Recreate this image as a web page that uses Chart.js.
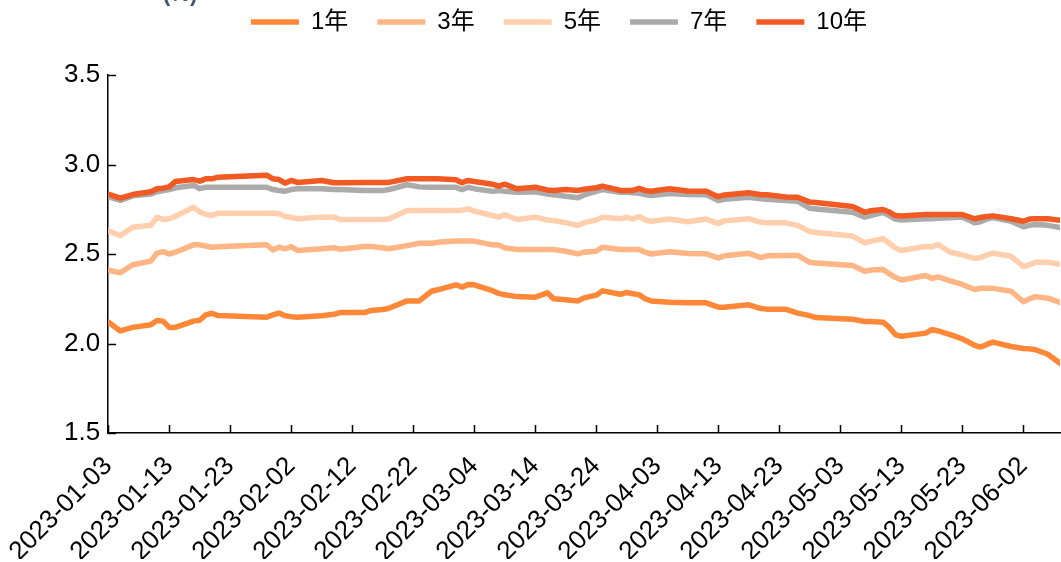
<!DOCTYPE html>
<html>
<head>
<meta charset="utf-8">
<script src="https://cdn.jsdelivr.net/npm/chart.js@4.4.1/dist/chart.umd.min.js"></script>
<style>
  html, body { margin: 0; padding: 0; background: #fff; }
  #wrap { width: 1061px; height: 562px; }
</style>
</head>
<body>
<div id="wrap"><canvas id="yieldChart" width="1061" height="562"></canvas></div>
<script>
// trading dates of the samples
const dates = [
  '2023-01-03','2023-01-05','2023-01-07','2023-01-10','2023-01-11','2023-01-12','2023-01-13','2023-01-14',
  '2023-01-17','2023-01-18','2023-01-19','2023-01-20','2023-01-21','2023-01-29','2023-01-30','2023-01-31',
  '2023-02-01','2023-02-02','2023-02-03','2023-02-07','2023-02-09','2023-02-10','2023-02-14','2023-02-15',
  '2023-02-17','2023-02-18','2023-02-21','2023-02-23','2023-02-25','2023-02-26','2023-03-01','2023-03-02',
  '2023-03-03','2023-03-04','2023-03-07','2023-03-08','2023-03-09','2023-03-11','2023-03-14','2023-03-16',
  '2023-03-17','2023-03-19','2023-03-21','2023-03-22','2023-03-24','2023-03-25','2023-03-28','2023-03-29',
  '2023-03-30','2023-03-31','2023-04-01','2023-04-02','2023-04-05','2023-04-08','2023-04-11','2023-04-13',
  '2023-04-14','2023-04-18','2023-04-20','2023-04-21','2023-04-24','2023-04-26','2023-04-28','2023-04-29',
  '2023-05-05','2023-05-07','2023-05-08','2023-05-10','2023-05-11','2023-05-12','2023-05-13','2023-05-17',
  '2023-05-18','2023-05-19','2023-05-21','2023-05-23','2023-05-25','2023-05-26','2023-05-27','2023-05-28',
  '2023-05-31','2023-06-02','2023-06-03','2023-06-04','2023-06-06','2023-06-08'
];

// yields (%) by tenor
const y1 = [
  2.12,2.07,2.09,2.105,2.128,2.125,2.09,2.09,2.125,2.13,2.16,2.169,2.156,2.147,2.16,2.17,
  2.155,2.15,2.147,2.155,2.163,2.173,2.173,2.184,2.19,2.197,2.238,2.238,2.292,2.30,2.328,2.315,
  2.33,2.328,2.295,2.28,2.272,2.262,2.259,2.283,2.25,2.245,2.238,2.255,2.27,2.294,2.275,2.285,
  2.278,2.273,2.25,2.238,2.23,2.227,2.227,2.203,2.203,2.216,2.195,2.192,2.192,2.17,2.156,2.145,
  2.136,2.123,2.123,2.119,2.091,2.05,2.04,2.058,2.078,2.07,2.05,2.026,1.99,1.98,1.995,2.008,
  1.983,1.972,1.97,1.965,1.94,1.89
];
const y3 = [
  2.41,2.395,2.44,2.46,2.505,2.513,2.50,2.51,2.551,2.551,2.545,2.538,2.54,2.551,2.523,2.538,
  2.529,2.541,2.52,2.529,2.535,2.527,2.542,2.542,2.535,2.529,2.547,2.56,2.56,2.565,2.572,2.572,
  2.572,2.572,2.551,2.55,2.535,2.525,2.525,2.525,2.525,2.515,2.501,2.51,2.516,2.538,2.525,2.525,
  2.525,2.525,2.51,2.50,2.512,2.503,2.501,2.478,2.49,2.504,2.48,2.49,2.492,2.492,2.453,2.45,
  2.436,2.404,2.41,2.413,2.39,2.37,2.355,2.38,2.363,2.372,2.35,2.33,2.302,2.309,2.309,2.308,
  2.292,2.233,2.25,2.262,2.253,2.23
];
const y5 = [
  2.63,2.603,2.65,2.66,2.705,2.693,2.697,2.71,2.761,2.735,2.722,2.715,2.728,2.728,2.728,2.725,
  2.71,2.705,2.697,2.706,2.706,2.693,2.693,2.693,2.693,2.695,2.743,2.743,2.743,2.743,2.743,2.745,
  2.752,2.74,2.715,2.706,2.719,2.693,2.706,2.69,2.687,2.675,2.659,2.675,2.69,2.706,2.697,2.705,
  2.695,2.71,2.69,2.683,2.695,2.68,2.695,2.67,2.685,2.697,2.677,2.674,2.674,2.66,2.625,2.62,
  2.60,2.563,2.572,2.585,2.56,2.535,2.52,2.542,2.54,2.553,2.51,2.495,2.475,2.48,2.495,2.505,
  2.487,2.43,2.44,2.454,2.454,2.442
];
const y7 = [
  2.82,2.80,2.825,2.835,2.848,2.855,2.86,2.87,2.883,2.865,2.873,2.873,2.873,2.873,2.86,2.855,
  2.851,2.86,2.864,2.864,2.86,2.86,2.855,2.855,2.855,2.86,2.887,2.875,2.873,2.873,2.873,2.86,
  2.873,2.865,2.85,2.855,2.85,2.845,2.848,2.835,2.831,2.823,2.814,2.83,2.85,2.86,2.845,2.845,
  2.842,2.84,2.832,2.827,2.838,2.833,2.831,2.799,2.806,2.817,2.808,2.806,2.799,2.795,2.755,2.752,
  2.733,2.706,2.715,2.733,2.715,2.695,2.69,2.697,2.697,2.70,2.703,2.706,2.674,2.68,2.695,2.703,
  2.683,2.652,2.66,2.665,2.66,2.648
];
const y10 = [
  2.835,2.812,2.832,2.848,2.864,2.868,2.875,2.905,2.916,2.907,2.92,2.92,2.929,2.94,2.92,2.916,
  2.896,2.911,2.90,2.911,2.898,2.898,2.90,2.90,2.90,2.90,2.92,2.92,2.92,2.92,2.915,2.898,
  2.911,2.905,2.89,2.879,2.89,2.864,2.873,2.858,2.855,2.86,2.855,2.862,2.87,2.879,2.855,2.855,
  2.855,2.866,2.855,2.851,2.864,2.852,2.851,2.82,2.83,2.842,2.831,2.831,2.818,2.817,2.79,2.788,
  2.765,2.733,2.742,2.749,2.735,2.715,2.712,2.72,2.72,2.72,2.72,2.72,2.697,2.704,2.71,2.713,
  2.697,2.683,2.695,2.697,2.697,2.688
];

const seriesNames = ['1年', '3年', '5年', '7年', '10年'];
const seriesColors = ['#FF8838', '#FFB584', '#FFCFAE', '#ABABAB', '#F15A22'];

// x axis labels, one every 10 days
const tickLabels = [
  '2023-01-03','2023-01-13','2023-01-23','2023-02-02','2023-02-12','2023-02-22','2023-03-04','2023-03-14',
  '2023-03-24','2023-04-03','2023-04-13','2023-04-23','2023-05-03','2023-05-13','2023-05-23','2023-06-02'
];
const lastDate = '2023-06-08';

const FONT = "'Liberation Sans', Arial, 'Noto Sans CJK SC', sans-serif";
const startMs = Date.parse(dates[0]);
const dayOf = d => Math.round((Date.parse(d) - startMs) / 864e5);

function toPoints(vals) {
  return vals.map((v, i) => ({ x: dayOf(dates[i]), y: v }));
}

const allValues = [y1, y3, y5, y7, y10];
const datasets = allValues.map((vals, i) => ({
  label: seriesNames[i],
  data: toPoints(vals),
  borderColor: seriesColors[i],
  backgroundColor: seriesColors[i],
  borderWidth: 5.5,
  borderCapStyle: 'round',
  borderJoinStyle: 'round',
  pointRadius: 0,
  tension: 0,
  order: i === 3 ? 1 : 0   // keep the 10y line above the 7y line
}));

// short tick marks pointing into the plot
const innerTicks = {
  id: 'innerTicks',
  afterDatasetsDraw(chart) {
    const { ctx, chartArea, scales: { x, y } } = chart;
    ctx.save();
    ctx.strokeStyle = '#000';
    ctx.lineWidth = 1.5;
    ctx.beginPath();
    y.ticks.forEach((t, i) => {
      const py = Math.round(y.getPixelForTick(i)) + 0.5;
      ctx.moveTo(chartArea.left, py);
      ctx.lineTo(chartArea.left + 8, py);
    });
    x.ticks.forEach((t, i) => {
      const px = Math.round(x.getPixelForTick(i)) + 0.5;
      ctx.moveTo(px, chartArea.bottom);
      ctx.lineTo(px, chartArea.bottom - 8);
    });
    ctx.stroke();
    ctx.restore();
  }
};

// unit label in the top left corner
const unitLabel = {
  id: 'unitLabel',
  afterDraw(chart) {
    const ctx = chart.ctx;
    ctx.save();
    ctx.font = 'bold 22px ' + FONT;
    ctx.fillStyle = '#44546A';
    ctx.textBaseline = 'alphabetic';
    ctx.fillText('(%)', 163, 1);
    ctx.restore();
  }
};

// nudge the legend row into place
const legendPlace = {
  id: 'legendPlace',
  afterLayout(chart) {
    const lg = chart.legend;
    lg.left += 1;
    lg.right += 1;
    lg.top -= 31;
    lg.bottom -= 31;
  }
};

new Chart(document.getElementById('yieldChart'), {
  type: 'line',
  data: { datasets: datasets },
  options: {
    responsive: false,
    devicePixelRatio: 1,
    animation: false,
    layout: { padding: { left: 56, right: 1, top: 12, bottom: 3 } },
    plugins: {
      legend: {
        position: 'top',
        labels: {
          usePointStyle: true,
          pointStyle: 'line',
          pointStyleWidth: 48,
          padding: 29,
          color: '#000',
          font: { size: 24, family: FONT },
          sort: (a, b) => a.datasetIndex - b.datasetIndex
        }
      },
      tooltip: { enabled: false }
    },
    scales: {
      x: {
        type: 'linear',
        min: 0,
        max: dayOf(lastDate),
        afterBuildTicks: scale => {
          scale.ticks = tickLabels.map(l => ({ value: dayOf(l) }));
        },
        afterFit: scale => {
          scale.height = 126;
          scale.paddingLeft = 0;
          scale.paddingRight = 0;
        },
        ticks: {
          autoSkip: false,
          minRotation: 45,
          maxRotation: 45,
          padding: 18,
          color: '#000',
          font: { size: 26, family: FONT },
          callback: value => tickLabels.find(l => dayOf(l) === value) || ''
        },
        grid: { display: false, drawTicks: false },
        border: { display: true, color: '#000', width: 1.5 }
      },
      y: {
        min: 1.5,
        max: 3.5,
        ticks: {
          stepSize: 0.5,
          padding: 8,
          color: '#000',
          font: { size: 26, family: FONT },
          callback: v => v.toFixed(1)
        },
        grid: { display: false, drawTicks: false },
        border: { display: true, color: '#000', width: 1.5 }
      }
    }
  },
  plugins: [innerTicks, unitLabel, legendPlace]
});
</script>
</body>
</html>
